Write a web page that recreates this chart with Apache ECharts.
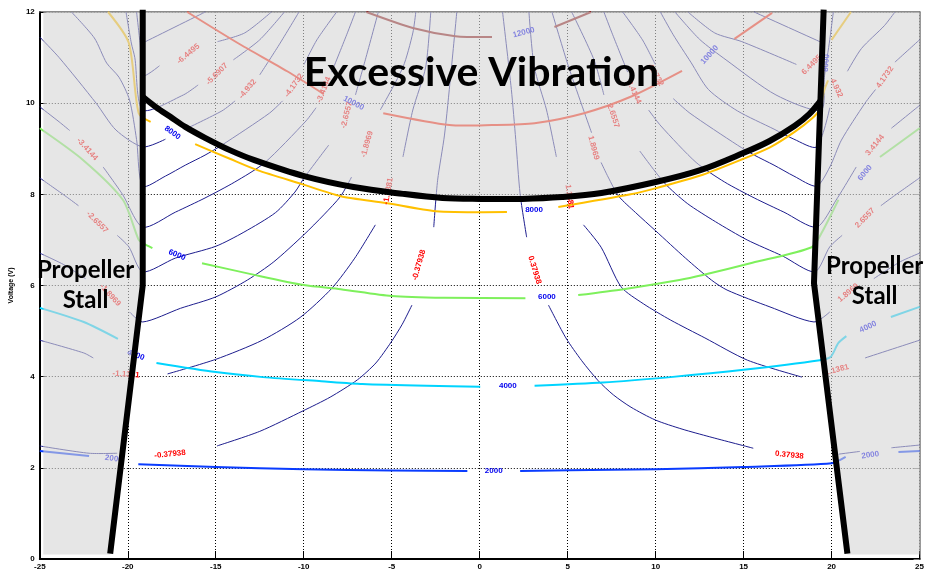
<!DOCTYPE html>
<html>
<head>
<meta charset="utf-8">
<script src="https://cdn.jsdelivr.net/npm/echarts@6/dist/echarts.min.js"></script>
<style>
html,body{margin:0;padding:0;background:#fff}
#chart{width:927px;height:571px}
</style>
</head>
<body>
<div id="chart"></div>
<script>
// Axis ranges and ticks
const xRange = [-25, 25], xStep = 5;
const yRange = [0, 12], yStep = 2;

// Pitch contours (navy), each level is a list of line pieces [x, volts]
const pitchM0379 = [
  [[-25,2.48],[-22.2,2.32],[-20.6,2.32]],
  [[-14.93,2.48],[-12.5,2.8],[-10.04,3.25],[-8.5,3.55],[-6.95,3.93],[-5.9,4.3],[-5.03,4.76],[-4.4,5.15],[-3.85,5.57]],
  [[-2.61,7.28],[-2.39,8.31],[-2.0,9.3],[-1.65,10.6],[-1.3,12]]
];
const pitchM1138 = [
  [[-25,4.8],[-22.5,4.52],[-21.96,4.41]],
  [[-17.74,4.06],[-15,4.38],[-12.35,4.8],[-10.2,5.3],[-8.4,5.94],[-7.1,6.6],[-5.93,7.33]],
  [[-4.36,8.82],[-3.8,9.85],[-3.07,10.79],[-2.78,12]]
];
const pitchM1897 = [
  [[-25,6.71],[-23.6,6.45],[-22.4,6.15]],
  [[-19.9,5.42],[-19.15,5.2],[-17,5.5],[-15,5.75],[-13.2,6.12],[-11.7,6.52],[-10,7.11],[-8.86,7.55],[-7.9,7.96],[-7.28,8.38]],
  [[-5.65,9.85],[-4.36,10.79],[-3.8,11.54],[-3.63,12]]
];
const pitchM2656 = [
  [[-25,8.36],[-23.5,7.95],[-22.8,7.75]],
  [[-20.6,7.1],[-19.94,6.85],[-19.15,6.3],[-17.3,6.6],[-15,6.86],[-13.4,7.17],[-11.6,7.6],[-10.5,8.05],[-9.98,8.36],[-8.58,9.08]],
  [[-7.06,10.18],[-6.5,10.95],[-5.76,12]]
];
const pitchM3414 = [
  [[-25,9.92],[-23.9,9.59],[-23.3,9.4]],
  [[-21.4,8.6],[-20.3,8.0],[-19.15,7.28],[-17.29,7.61],[-15.61,7.92],[-13.92,8.27],[-12.23,8.69],[-9.87,9.61],[-9.3,9.9]],
  [[-8.41,10.68],[-7.56,11.5],[-7.06,12]]
];
const pitchM4173 = [
  [[-23.2,12],[-21.9,11.43],[-21.2,10.88],[-20.5,10.57],[-19.9,10.07],[-19.5,9.2],[-19.15,8.18],[-17.86,8.4],[-16.73,8.64],[-15.61,8.86],[-14.65,9.08],[-11.95,9.78],[-11.2,10.05]],
  [[-9.98,10.85],[-9.25,11.39],[-8.13,12]]
];
const pitchM4932 = [
  [[-25,11.45],[-23.9,11.0],[-21.8,10.0],[-20.67,9.41],[-19.15,9.04],[-17.86,9.21]],
  [[-16.73,9.43],[-14.65,9.83],[-13.9,10.05]],
  [[-12.5,10.62],[-11.4,11.28],[-10.27,12]]
];
const pitchM5691 = [
  [[-20.1,12],[-19.8,11.32],[-19.6,11.0],[-19.15,9.85],[-16.84,10.18],[-16.0,10.4]],
  [[-14.0,10.95],[-12.5,11.39],[-11.1,12]]
];
const pitchM6450 = [
  [[-19.5,12],[-19.3,11.3],[-19.15,10.6],[-18.2,10.82]],
  [[-14.9,11.35],[-13.36,11.54],[-11.84,12]]
];
const pitchM7208 = [
  [[-19.15,11.32],[-15.6,12]]
];
const pitchP0379 = [
  [[20.4,2.3],[21.6,2.36]],
  [[23.4,2.44],[25,2.5]],
  [[15.55,2.43],[13.08,2.68],[11.5,2.85],[9.98,3.05],[8.6,3.33],[7.6,3.6],[6.74,3.91],[5.8,4.35],[4.9,4.85],[3.91,5.57]],
  [[2.67,7.06],[2.3,8.0],[2.05,9.2],[1.8,10.3],[1.3,12]]
];
const pitchP1138 = [
  [[25,4.8],[21.9,4.41]],
  [[18.32,3.99],[15.23,4.36],[12.8,4.85],[10.86,5.24],[9.3,5.6],[8.04,5.97],[6.9,6.84],[5.9,7.33]],
  [[4.36,8.82],[3.8,9.85],[3.1,10.8],[2.8,12]]
];
const pitchP1897 = [
  [[25,6.71],[23.9,6.52],[22.4,6.15]],
  [[19.9,5.42],[19.0,5.2],[16.5,5.53],[14.06,5.9],[13.17,6.12],[11.7,6.6],[10,7.2],[8.86,7.6],[7.9,7.96],[7.3,8.38],[6.9,8.7]],
  [[6.36,9.35],[5.06,10.79],[4.11,12]]
];
const pitchP2656 = [
  [[25,8.36],[23.5,7.95],[22.8,7.75]],
  [[20.6,7.1],[19.9,6.85],[19.05,6.3],[17.2,6.65],[15.2,7.0],[13.4,7.4],[11.8,7.8],[10.5,8.25],[9.1,8.95]],
  [[7.06,10.18],[6.5,10.95],[5.23,12]]
];
const pitchP3414 = [
  [[25,9.95],[23.4,9.45]],
  [[21.4,8.6],[20.3,7.9],[19.15,7.28],[17.29,7.61],[15.61,7.92],[13.92,8.27],[12.3,8.7],[10.3,9.5],[9.6,9.85]],
  [[8.41,10.68],[7.56,11.5],[7.06,12]]
];
const pitchP4173 = [
  [[25,11.39],[23.6,10.9]],
  [[22.5,10.3],[21.9,10.0],[20.56,9.19],[19.9,8.6],[19.15,8.18],[17.86,8.4],[16.73,8.64],[15.61,8.86],[14.65,9.08],[11.95,9.78],[11.0,10.1]],
  [[9.98,10.85],[9.25,11.39],[8.13,12]]
];
const pitchP4932 = [
  [[23.6,12],[23.0,11.7],[21.7,11.2],[20.9,10.7]],
  [[19.9,9.9],[19.15,9.04],[17.86,9.21],[16.73,9.43],[14.65,9.83],[13.0,10.3],[12.0,10.9],[11.0,11.5],[10.27,12]]
];
const pitchP5691 = [
  [[20.1,12],[19.9,11.4],[19.6,10.6],[19.4,9.85],[16.84,10.18],[14.0,10.95],[12.5,11.4],[11.1,12]]
];
const pitchP6450 = [
  [[18.0,10.85],[14.9,11.35],[13.36,11.54],[11.84,12]]
];
const pitchP7208 = [
  [[19.5,11.32],[15.6,12]]
];

// Speed contours (rpm)
const rpm2000 = [
  [[-25,2.37],[-22.2,2.26]],
  [[-19.4,2.08],[-15,2.02],[-10,1.97],[-5,1.94],[-0.7,1.93]],
  [[2.3,1.93],[7.5,1.96],[10,1.97],[15,2.02],[20,2.1],[20.8,2.24]],
  [[23.8,2.35],[25,2.37]]
];
const rpm4000 = [
  [[-25,5.51],[-22.5,5.2],[-20.56,4.83]],
  [[-18.37,4.3],[-15,4.1],[-12.32,3.99],[-9,3.9],[-6.66,3.84],[-3,3.8],[0.03,3.78]],
  [[3.12,3.8],[7,3.87],[10.84,3.99],[15,4.15],[19.33,4.36],[19.94,4.43],[20.39,4.74],[20.84,4.89]],
  [[23.37,5.31],[25,5.53]]
];
const rpm6000 = [
  [[-25,9.45],[-22.53,8.75],[-20.28,7.88],[-19.38,7.0],[-19.15,6.93],[-18.6,6.82]],
  [[-15.78,6.49],[-13,6.25],[-10,6.01],[-7.9,5.92],[-5,5.77],[-2,5.73],[2.6,5.72]],
  [[5.6,5.79],[8.18,5.92],[11.35,6.12],[12.68,6.23],[15.5,6.5],[18.87,6.84],[19.43,7.15],[20.39,7.88]],
  [[22.75,8.82],[25,9.45]]
];
const rpm8000 = [
  [[-21.12,12],[-19.94,11.32],[-19.38,9.78],[-18.7,9.59]],
  [[-16.17,9.1],[-14.2,8.78],[-12.63,8.53],[-10.15,8.23],[-7.9,7.96],[-5.31,7.81],[-2.5,7.63],[1.55,7.61]],
  [[4.47,7.72],[8.58,8.0],[9.87,8.12],[12.68,8.43],[15,8.78],[16.5,9.03],[17.9,9.37],[18.9,9.67],[19.3,9.85],[19.6,10.3],[19.8,10.5]],
  [[20,11.39],[21.1,12]]
];
const rpm10000 = [
  [[-16.62,12],[-13.75,11.32],[-10.94,10.7],[-8.86,10.2]],
  [[-5.48,9.78],[-1.72,9.52],[0.7,9.52],[3.12,9.56],[5.93,9.78],[8.58,10.14],[11.5,10.71]],
  [[14.48,11.41],[16.62,11.98]]
];
const rpm12000 = [
  [[-6.44,12],[-3.8,11.65],[-1.38,11.47],[0.7,11.45]],
  [[4.25,11.67],[6.33,12]]
];

// Inline contour labels: [text, x, volts, angle]
const pitchLabels = [
  ["-0.37938",-17.6,2.3,6], ["-0.37938",-3.45,6.45,74],
  ["-1.1381",-20.1,4.05,-4], ["-1.1381",-5.2,8.07,80],
  ["-1.8969",-21.0,5.79,-48], ["-1.8969",-6.4,9.1,74],
  ["-2.6557",-21.74,7.39,-45], ["-2.6557",-7.56,9.74,76],
  ["-3.4144",-22.3,8.99,-48], ["-3.4144",-8.86,10.29,68],
  ["-4.1732",-10.55,10.39,55], ["-4.932",-13.19,10.31,50],
  ["-5.6907",-14.93,10.64,45], ["-6.4495",-16.56,11.08,40],
  ["0.37938",17.6,2.28,-6], ["0.37938",3.12,6.34,-73],
  ["1.1381",20.3,4.15,15], ["1.1381",5.1,7.95,-82],
  ["1.8969",20.95,5.84,40], ["1.8969",6.47,9.02,-75],
  ["2.6557",21.9,7.48,45], ["2.6557",7.59,9.72,-72],
  ["3.4144",22.47,9.08,50], ["3.4144",8.77,10.24,-65],
  ["4.1732",23.03,10.57,55], ["4.1732",10.0,10.62,-60],
  ["4.932",20.28,10.33,-65], ["6.4495",18.87,10.84,45]
];
const rpmLabels = [
  ["2000",0.8,1.93,0], ["2000",-20.8,2.2,-8], ["2000",22.2,2.28,8],
  ["4000",1.6,3.79,0], ["4000",-19.54,4.47,-20], ["4000",22.07,5.09,25],
  ["6000",3.82,5.75,0], ["6000",-17.2,6.67,-22], ["6000",21.9,8.47,50],
  ["8000",3.09,7.66,0], ["8000",-17.46,9.35,-35], ["8000",19.7,10.88,85],
  ["10000",-7.17,10.0,-28], ["10000",13.07,11.06,48],
  ["12000",2.5,11.55,15]
];

// Operating envelope boundaries
const stallLeft = [[-19.15,12.05],[-19.15,6.0],[-21.0,0.12]];
const stallRight = [[19.55,12.05],[19.0,6.05],[20.9,0.12]];
const vibrationEdge = [[-19.15,10.14],[-18.42,9.92],[-17.58,9.7],[-16.73,9.48],[-15.61,9.24],[-14.2,8.97],[-12.8,8.75],[-9.98,8.4],[-7.17,8.16],[-4.36,8.01],[-2.11,7.92],[0,7.9],[2.42,7.9],[4.67,7.94],[6.92,8.03],[10.01,8.27],[12.54,8.53],[15.01,8.91],[16.48,9.17],[17.89,9.5],[18.73,9.76],[19.37,10.05]];

// Shaded (out of envelope) regions
const shadeLeft = [[-24.8,0.1],[-21.0,0.1],[-19.15,6.0],[-19.15,12],[-24.8,12]];
const shadeRight = [[20.9,0.1],[25,0.1],[25,12],[19.55,12],[19.0,6.05]];
const shadeTop = vibrationEdge.concat([[19.55,12],[-19.15,12]]);

// Region annotations: [text, x, volts, size]
const regionNotes = [
  ["Excessive Vibration", 0.1, 10.67, 41],
  ["Propeller", -22.4, 6.34, 24],
  ["Stall", -22.4, 5.68, 24],
  ["Propeller", 22.45, 6.43, 24],
  ["Stall", 22.45, 5.77, 24]
];

const chart = echarts.init(document.getElementById('chart'), null, {renderer:'canvas'});

function curveSeries(pieces, color, width, z, smooth) {
  return {
    type:'custom', z:z, silent:true, clip:false,
    data: pieces.map((p,i)=>[i]),
    renderItem: function(params, api){
      const piece = pieces[api.value(0)];
      return {
        type:'polyline',
        shape:{points: piece.map(p=>api.coord(p)), smooth: smooth},
        style:{stroke:color, lineWidth:width, fill:null, lineCap:'butt', lineJoin:'round'}
      };
    }
  };
}
function areaSeries(polys, color, z) {
  return {
    type:'custom', z:z, silent:true,
    data: polys.map((p,i)=>[i]),
    renderItem: function(params, api){
      const poly = polys[api.value(0)];
      return {type:'polygon', shape:{points: poly.map(p=>api.coord(p))}, style:{fill:color, stroke:null}};
    }
  };
}
function labelSeries(items, color, z, family, weight) {
  return {
    type:'custom', z:z, silent:true,
    data: items.map((p,i)=>[i]),
    renderItem: function(params, api){
      const it = items[api.value(0)];
      const pt = api.coord([it[1], it[2]]);
      return {
        type:'text', x:pt[0], y:pt[1], rotation: (it[3] || 0)*Math.PI/180,
        style:{text:it[0], fill:color, font: weight + ' ' + (it[4] || 8) + 'px ' + family, align:'center', verticalAlign:'middle'}
      };
    }
  };
}

const navy = '#1d1d8e';
const pitchLevels = [pitchM0379,pitchM1138,pitchM1897,pitchM2656,pitchM3414,pitchM4173,pitchM4932,pitchM5691,pitchM6450,pitchM7208,
                     pitchP0379,pitchP1138,pitchP1897,pitchP2656,pitchP3414,pitchP4173,pitchP4932,pitchP5691,pitchP6450,pitchP7208];
const series = [];
pitchLevels.forEach(l => series.push(curveSeries(l, navy, 1, 2, 0.25)));
series.push(curveSeries(rpm2000, '#0a3cff', 2, 2, 0.25));
series.push(curveSeries(rpm4000, '#00d4ff', 2, 2, 0.25));
series.push(curveSeries(rpm6000, '#7ef05c', 2, 2, 0.25));
series.push(curveSeries(rpm8000, '#ffc000', 2, 2, 0.25));
series.push(curveSeries(rpm10000, '#ff2a10', 2, 2, 0.25));
series.push(curveSeries(rpm12000, '#8c1010', 2, 2, 0.25));
series.push(labelSeries(pitchLabels, '#ff0000', 3, '"Liberation Sans", Arial, sans-serif', 'bold'));
series.push(labelSeries(rpmLabels, '#0000ee', 3, '"Liberation Sans", Arial, sans-serif', 'bold'));
series.push(areaSeries([shadeLeft, shadeRight, shadeTop], 'rgba(214,214,214,0.6)', 4));
series.push(curveSeries([stallLeft, stallRight], '#000', 6, 5, 0));
series.push(curveSeries([vibrationEdge], '#000', 6, 5, 0.35));
series.push(Object.assign(
  labelSeries(regionNotes.map(n => [n[0], n[1], n[2], 0, n[3]]), '#000', 8, 'Lato, "Open Sans", sans-serif', 'bold'),
  {clip:false}));

const tickFont = {fontFamily:'"Liberation Sans", Arial, sans-serif', fontWeight:'bold', fontSize:8, color:'#000'};
const dotted = {show:true, lineStyle:{color:'#000', width:1, type:[1,2]}};

chart.setOption({
  animation:false,
  backgroundColor:'#fff',
  grid:{left:33, right:5, top:12, bottom:12, containLabel:false},
  xAxis:[
    {type:'value', min:xRange[0], max:xRange[1], interval:xStep, position:'bottom',
     axisLine:{show:true, onZero:false, lineStyle:{color:'#000', width:2}},
     axisTick:{show:true, inside:true, length:8, lineStyle:{color:'#000', width:1}},
     axisLabel:Object.assign({margin:4}, tickFont),
     splitLine:dotted},
    {type:'value', min:xRange[0], max:xRange[1], interval:xStep, position:'top',
     axisLine:{show:true, onZero:false, lineStyle:{color:'#666', width:1.5}},
     axisTick:{show:false}, axisLabel:{show:false}, splitLine:{show:false}}
  ],
  yAxis:[
    {type:'value', min:yRange[0], max:yRange[1], interval:yStep, position:'left',
     name:'Voltage (V)', nameLocation:'middle', nameGap:15, nameRotate:90,
     nameTextStyle:{fontFamily:'"Liberation Sans", Arial, sans-serif', fontWeight:'bold', fontSize:7, color:'#000'},
     axisLine:{show:true, onZero:false, lineStyle:{color:'#000', width:2}},
     axisTick:{show:true, inside:true, length:6, lineStyle:{color:'#000', width:1}},
     axisLabel:Object.assign({margin:5}, tickFont),
     splitLine:dotted},
    {type:'value', min:yRange[0], max:yRange[1], interval:yStep, position:'right',
     axisLine:{show:true, onZero:false, lineStyle:{color:'#777', width:1.5}},
     axisTick:{show:true, inside:true, length:6, lineStyle:{color:'#777', width:1}},
     axisLabel:{show:false}, splitLine:{show:false}}
  ],
  series: series
});
</script>
</body>
</html>
